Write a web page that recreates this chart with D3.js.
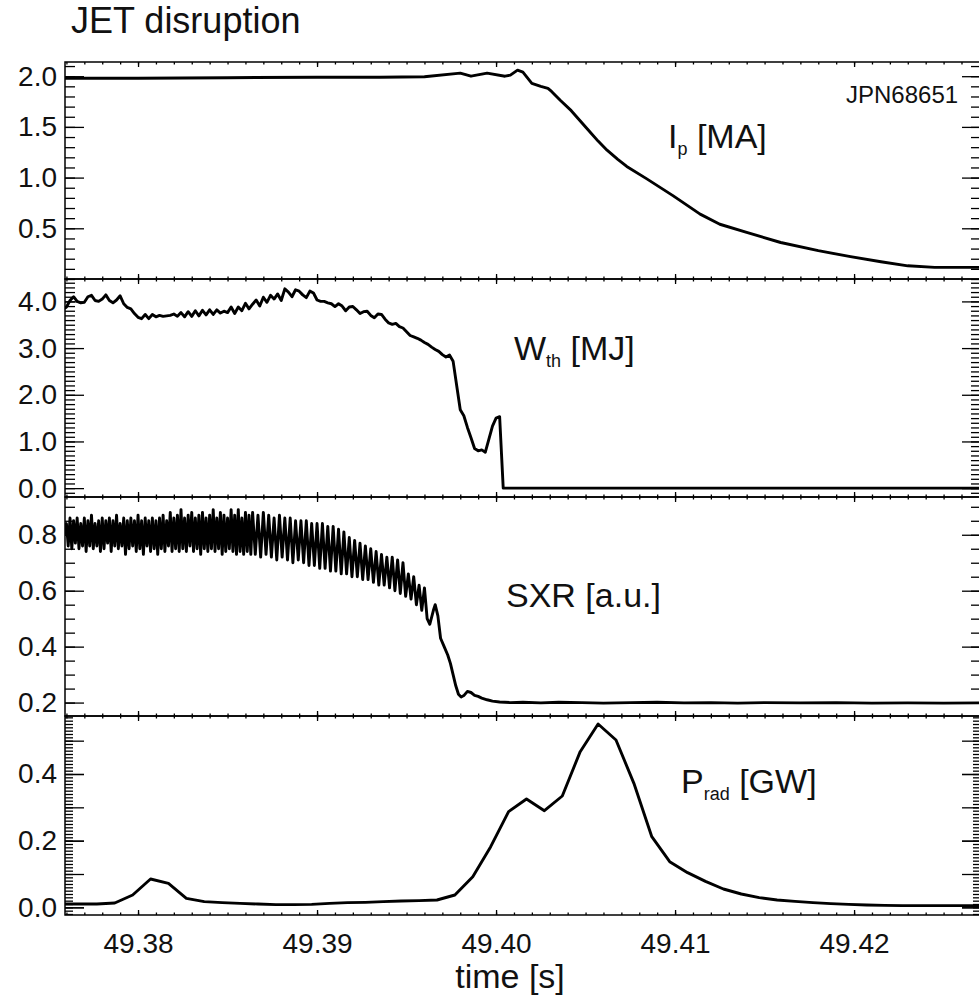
<!DOCTYPE html>
<html>
<head>
<meta charset="utf-8">
<script src="https://cdn.jsdelivr.net/npm/d3@7"></script>
<style>
  body { margin: 0; background: #fff; }
  svg { display: block; font-family: "Liberation Sans", Arial, Helvetica, sans-serif; }
  .tick line { stroke: #000; stroke-width: 1.3; }
  .tick text { font-size: 28px; fill: #111; font-family: "Liberation Sans", Arial, sans-serif; }
  .frame { fill: none; stroke: #000; stroke-width: 1.5; }
  .trace { fill: none; stroke: #000; stroke-width: 2.9; stroke-linejoin: round; }
  .label { font-size: 34px; fill: #111; }
</style>
</head>
<body>
<div id="chart"></div>
<script>
// Time axis [s]
const timeTicks = [49.38, 49.39, 49.40, 49.41, 49.42];

// Plasma current Ip [MA]
const ipData = [
  [49.3759, 1.98], [49.3800, 1.98], [49.3850, 1.985], [49.3900, 1.99], [49.3935, 1.99],
  [49.3960, 1.995], [49.3980, 2.03], [49.3986, 2.00], [49.3995, 2.03], [49.4005, 2.00],
  [49.4008, 2.01], [49.4012, 2.06], [49.4015, 2.04], [49.4020, 1.93], [49.4025, 1.90],
  [49.4029, 1.88], [49.4031, 1.85], [49.4036, 1.76], [49.4042, 1.66], [49.4051, 1.48],
  [49.4057, 1.36], [49.4062, 1.27], [49.4068, 1.18], [49.4073, 1.11], [49.4084, 0.99],
  [49.4099, 0.82], [49.4114, 0.64], [49.4125, 0.54], [49.4140, 0.46], [49.4159, 0.36],
  [49.4180, 0.28], [49.4198, 0.22], [49.4215, 0.17], [49.4230, 0.13], [49.4245, 0.115],
  [49.4271, 0.115]
];
const ipTicks = [0.5, 1.0, 1.5, 2.0];

// Thermal energy Wth [MJ]
const wthData = [
  [49.3759, 3.85], [49.3760, 3.88], [49.3762, 4.02], [49.3764, 4.10], [49.3766, 4.00], [49.3768, 3.97],
  [49.3770, 3.98], [49.3772, 4.10], [49.3774, 4.13], [49.3776, 4.02], [49.3778, 4.00],
  [49.3780, 4.05], [49.3782, 4.14], [49.3784, 4.02], [49.3786, 3.97], [49.3788, 4.03],
  [49.3790, 4.12], [49.3792, 3.95], [49.3794, 3.87], [49.3796, 3.84], [49.3798, 3.74],
  [49.3800, 3.66], [49.3802, 3.63], [49.3804, 3.72], [49.3806, 3.63], [49.3808, 3.72],
  [49.3810, 3.67], [49.3812, 3.70], [49.3814, 3.68], [49.3816, 3.69], [49.3818, 3.70],
  [49.3820, 3.73], [49.3822, 3.68], [49.3824, 3.76], [49.3826, 3.67], [49.3828, 3.78],
  [49.3830, 3.68], [49.3832, 3.80], [49.3834, 3.69], [49.3836, 3.81], [49.3838, 3.71],
  [49.3840, 3.82], [49.3842, 3.72], [49.3844, 3.82], [49.3846, 3.75], [49.3848, 3.79],
  [49.3850, 3.76], [49.3852, 3.88], [49.3854, 3.74], [49.3856, 3.88], [49.3858, 3.80],
  [49.3860, 3.96], [49.3862, 3.84], [49.3864, 3.94], [49.3866, 4.03], [49.3868, 3.90],
  [49.3870, 4.09], [49.3872, 3.98], [49.3874, 4.13], [49.3876, 4.05], [49.3878, 4.16],
  [49.3880, 4.02], [49.3882, 4.27], [49.3884, 4.20], [49.3886, 4.10], [49.3888, 4.25],
  [49.3890, 4.22], [49.3892, 4.14], [49.3894, 4.08], [49.3896, 4.22], [49.3898, 4.18],
  [49.3900, 4.03], [49.3902, 4.00], [49.3904, 4.00], [49.3906, 3.97], [49.3908, 3.95],
  [49.3910, 3.89], [49.3912, 3.95], [49.3914, 3.90], [49.3916, 3.80], [49.3918, 3.88],
  [49.3920, 3.89], [49.3922, 3.82], [49.3924, 3.74], [49.3926, 3.78], [49.3928, 3.79],
  [49.3930, 3.70], [49.3932, 3.65], [49.3934, 3.73], [49.3936, 3.72], [49.3938, 3.62],
  [49.3940, 3.54], [49.3942, 3.51], [49.3944, 3.53], [49.3946, 3.46], [49.3948, 3.43],
  [49.3950, 3.35], [49.3952, 3.27], [49.3954, 3.24], [49.3956, 3.21], [49.3958, 3.17],
  [49.3960, 3.12], [49.3962, 3.08], [49.3964, 3.02], [49.3966, 2.97], [49.3968, 2.93],
  [49.3970, 2.86], [49.3972, 2.81], [49.3974, 2.85], [49.3976, 2.72], [49.3978, 2.20],
  [49.3980, 1.68], [49.3982, 1.55], [49.3984, 1.30], [49.3986, 1.08], [49.3988, 0.85],
  [49.3990, 0.80], [49.3992, 0.82], [49.3994, 0.77], [49.3996, 1.05], [49.3998, 1.33],
  [49.4000, 1.50], [49.4002, 1.53], [49.4004, 0.0], [49.4271, 0.0]
];
const wthTicks = [0.0, 1.0, 2.0, 3.0, 4.0];

// Soft X-ray emission SXR [a.u.]
const sxrData = [
  [49.3759, 0.80],
  [49.3760, 0.84], [49.3761, 0.76], [49.3762, 0.86], [49.3763, 0.75], [49.3764, 0.85],
  [49.3765, 0.77], [49.3766, 0.86], [49.3767, 0.75], [49.3768, 0.84], [49.3769, 0.76],
  [49.3770, 0.86], [49.3771, 0.74], [49.3772, 0.85], [49.3773, 0.76], [49.3774, 0.87],
  [49.3775, 0.75], [49.3776, 0.84], [49.3777, 0.76], [49.3778, 0.85], [49.3779, 0.74],
  [49.3780, 0.86], [49.3781, 0.75], [49.3782, 0.85], [49.3783, 0.77], [49.3784, 0.86],
  [49.3785, 0.74], [49.3786, 0.85], [49.3787, 0.76], [49.3788, 0.87], [49.3789, 0.75],
  [49.3790, 0.84], [49.3791, 0.76], [49.3792, 0.86], [49.3793, 0.73], [49.3794, 0.85],
  [49.3795, 0.75], [49.3796, 0.86], [49.3797, 0.76], [49.3798, 0.85], [49.3799, 0.74],
  [49.3800, 0.87], [49.3801, 0.75], [49.3802, 0.85], [49.3803, 0.73], [49.3804, 0.86],
  [49.3805, 0.76], [49.3806, 0.85], [49.3807, 0.74], [49.3808, 0.86], [49.3809, 0.75],
  [49.3810, 0.85], [49.3811, 0.73], [49.3812, 0.86], [49.3813, 0.75], [49.3814, 0.87],
  [49.3815, 0.74], [49.3816, 0.85], [49.3817, 0.76], [49.3818, 0.88], [49.3819, 0.74],
  [49.3820, 0.86], [49.3821, 0.75], [49.3822, 0.87], [49.3823, 0.74], [49.3824, 0.89],
  [49.3825, 0.75], [49.3826, 0.86], [49.3827, 0.74], [49.3828, 0.87], [49.3829, 0.76],
  [49.3830, 0.88], [49.3831, 0.74], [49.3832, 0.86], [49.3833, 0.75], [49.3834, 0.87],
  [49.3835, 0.73], [49.3836, 0.88], [49.3837, 0.75], [49.3838, 0.86], [49.3839, 0.74],
  [49.3840, 0.87], [49.3841, 0.75], [49.3842, 0.89], [49.3843, 0.74], [49.3844, 0.86],
  [49.3845, 0.75], [49.3846, 0.88], [49.3847, 0.73], [49.3848, 0.87], [49.3849, 0.74],
  [49.3850, 0.86], [49.3851, 0.75], [49.3852, 0.89], [49.3853, 0.74], [49.3854, 0.87],
  [49.3855, 0.73], [49.3856, 0.89], [49.3857, 0.74], [49.3858, 0.86], [49.3859, 0.73],
  [49.3860, 0.88], [49.3861, 0.74], [49.3862, 0.87], [49.3863, 0.73],
  // sawtooth phase
  [49.38640, 0.88], [49.38655, 0.73], [49.38670, 0.87], [49.38685, 0.72], [49.38700, 0.88],
  [49.38715, 0.73], [49.38730, 0.87], [49.38745, 0.72], [49.38760, 0.86], [49.38775, 0.71],
  [49.38790, 0.87], [49.38805, 0.72], [49.38820, 0.86], [49.38835, 0.71], [49.38850, 0.86],
  [49.38865, 0.70], [49.38880, 0.85], [49.38895, 0.71], [49.38910, 0.85], [49.38925, 0.70],
  [49.38940, 0.85], [49.38955, 0.69], [49.38970, 0.84], [49.38985, 0.69], [49.39000, 0.84],
  [49.39015, 0.68], [49.39030, 0.84], [49.39045, 0.68], [49.39060, 0.83], [49.39075, 0.67],
  [49.39090, 0.83], [49.39105, 0.67], [49.39120, 0.82], [49.39135, 0.66], [49.39150, 0.81],
  [49.39165, 0.66], [49.39180, 0.79], [49.39195, 0.65], [49.39210, 0.78], [49.39225, 0.65],
  [49.39240, 0.77], [49.39255, 0.64], [49.39270, 0.76], [49.39285, 0.64], [49.39300, 0.75],
  [49.39315, 0.63], [49.39330, 0.74], [49.39345, 0.62], [49.39360, 0.73], [49.39375, 0.62],
  [49.39390, 0.72], [49.39405, 0.61], [49.39420, 0.72], [49.39435, 0.60], [49.39450, 0.71],
  [49.39465, 0.59], [49.39480, 0.70], [49.39495, 0.58], [49.39510, 0.66], [49.39525, 0.57],
  [49.39540, 0.65], [49.39555, 0.55], [49.39570, 0.62], [49.39585, 0.53], [49.39600, 0.61],
  [49.39615, 0.50],
  // thermal quench
  [49.39630, 0.48], [49.39650, 0.53], [49.39660, 0.55], [49.39675, 0.51], [49.39690, 0.43],
  [49.39710, 0.40], [49.39730, 0.37], [49.39745, 0.34], [49.39760, 0.30], [49.39775, 0.26],
  [49.39790, 0.23], [49.39805, 0.22], [49.39820, 0.225], [49.39840, 0.24], [49.39860, 0.236],
  [49.39880, 0.226], [49.39900, 0.222], [49.39920, 0.216], [49.39950, 0.21], [49.39980, 0.205],
  [49.4002, 0.202], [49.4008, 0.200], [49.4015, 0.201], [49.4025, 0.199], [49.4035, 0.201],
  [49.4048, 0.200], [49.4060, 0.198], [49.4075, 0.200], [49.4090, 0.201], [49.4105, 0.199],
  [49.4120, 0.200], [49.4135, 0.198], [49.4150, 0.200], [49.4170, 0.199], [49.4190, 0.200],
  [49.4210, 0.198], [49.4230, 0.199], [49.4250, 0.198], [49.4271, 0.199]
];
const sxrTicks = [0.2, 0.4, 0.6, 0.8];

// Radiated power Prad [GW]
const pradData = [
  [49.3757, 0.010], [49.3767, 0.010], [49.3777, 0.010], [49.3787, 0.013], [49.3797, 0.037],
  [49.3807, 0.085], [49.3817, 0.072], [49.3827, 0.027], [49.3837, 0.017], [49.3847, 0.014],
  [49.3857, 0.012], [49.3867, 0.010], [49.3877, 0.008], [49.3887, 0.008], [49.3897, 0.009],
  [49.3907, 0.012], [49.3917, 0.014], [49.3927, 0.015], [49.3937, 0.017], [49.3947, 0.019],
  [49.3957, 0.020], [49.3967, 0.022], [49.3977, 0.037], [49.3987, 0.092], [49.3997, 0.182],
  [49.4007, 0.287], [49.4017, 0.325], [49.4027, 0.290], [49.4037, 0.334], [49.4047, 0.467],
  [49.4057, 0.550], [49.4067, 0.502], [49.4077, 0.372], [49.4087, 0.212], [49.4097, 0.137],
  [49.4107, 0.104], [49.4117, 0.078], [49.4127, 0.055], [49.4137, 0.040], [49.4147, 0.029],
  [49.4157, 0.022], [49.4167, 0.018], [49.4177, 0.014], [49.4187, 0.011], [49.4197, 0.009],
  [49.4207, 0.007], [49.4217, 0.006], [49.4227, 0.005], [49.4237, 0.005], [49.4247, 0.005],
  [49.4257, 0.005], [49.4267, 0.005], [49.4277, 0.005]
];
const pradTicks = [0.0, 0.2, 0.4];

/************************************
 * Build the stacked panels
 ************************************/
const w = 979, h = 997;
const left = 65, right = 981;

const svg = d3.select("#chart").append("svg")
  .attr("width", w)
  .attr("height", h);

const x = d3.scaleLinear()
  .domain([49.37592, 49.42709])
  .range([left, right]);

const xMinor = d3.range(49376, 49428).map(d => d / 1000);

const panels = [
  { id: "ip", data: ipData, domain: [0, 2.14], top: 62, bottom: 279, ticks: ipTicks,
    minor: d3.range(0, 22).map(d => d / 10), majorLen: 19, minorLen: 10 },
  { id: "wth", data: wthData, domain: [-0.19, 4.48], top: 279, bottom: 497, ticks: wthTicks,
    minor: d3.range(-1, 45).map(d => d / 10), majorLen: 19, minorLen: 10 },
  { id: "sxr", data: sxrData, domain: [0.152, 0.935], top: 497, bottom: 716, ticks: sxrTicks,
    minor: d3.range(3, 19).map(d => d / 20), majorLen: 19, minorLen: 10, width: 2.9 },
  { id: "prad", data: pradData, domain: [-0.023, 0.574], top: 716, bottom: 915, ticks: pradTicks,
    extra: d3.range(0, 6).map(d => d / 10),
    minor: d3.range(-2, 58).map(d => d / 100), majorLen: 19, minorLen: 8 }
];

panels.forEach((p, i) => {
  const y = d3.scaleLinear().domain(p.domain).range([p.bottom, p.top]);
  const last = i === panels.length - 1;

  svg.append("clipPath").attr("id", "clip-" + p.id)
    .append("rect")
    .attr("x", left).attr("y", p.top)
    .attr("width", right - left).attr("height", p.bottom - p.top);

  // data trace
  svg.append("path")
    .datum(p.data)
    .attr("class", "trace")
    .attr("clip-path", "url(#clip-" + p.id + ")")
    .style("stroke-width", p.width || 2.9)
    .attr("d", d3.line().x(d => x(d[0])).y(d => y(d[1])));

  // left / right axes: minor, (extra), major with labels
  const addY = (axis, xPos) => {
    const g = svg.append("g").attr("transform", "translate(" + xPos + ",0)").call(axis);
    g.select(".domain").remove();
    return g;
  };
  const inRange = v => v >= p.domain[0] && v <= p.domain[1];
  addY(d3.axisLeft(y).tickValues(p.minor.filter(inRange)).tickSize(-p.minorLen).tickFormat(""), left);
  addY(d3.axisRight(y).tickValues(p.minor.filter(inRange)).tickSize(-p.minorLen).tickFormat(""), right);
  if (p.extra) {
    addY(d3.axisLeft(y).tickValues(p.extra.filter(inRange)).tickSize(-p.majorLen).tickFormat(""), left);
    addY(d3.axisRight(y).tickValues(p.extra.filter(inRange)).tickSize(-p.majorLen).tickFormat(""), right);
  }
  addY(d3.axisLeft(y).tickValues(p.ticks).tickSize(-p.majorLen).tickPadding(8)
    .tickFormat(d3.format(".1f")), left);
  addY(d3.axisRight(y).tickValues(p.ticks).tickSize(-p.majorLen).tickFormat(""), right);

  // top and bottom time ticks
  const addX = (axis, yPos) => {
    const g = svg.append("g").attr("transform", "translate(0," + yPos + ")").call(axis);
    g.select(".domain").remove();
    return g;
  };
  addX(d3.axisTop(x).tickValues(xMinor).tickSize(-2.5).tickFormat(""), p.top);
  addX(d3.axisTop(x).tickValues(timeTicks).tickSize(-5).tickFormat(""), p.top);
  addX(d3.axisBottom(x).tickValues(xMinor).tickSize(-2.5).tickFormat(""), p.bottom);
  addX(d3.axisBottom(x).tickValues(timeTicks).tickSize(-5).tickPadding(18)
    .tickFormat(last ? d3.format(".2f") : ""), p.bottom);

  svg.append("rect")
    .attr("class", "frame")
    .attr("x", left).attr("y", p.top)
    .attr("width", right - left).attr("height", p.bottom - p.top);
});

// Titles and trace labels
svg.append("text")
  .attr("x", 71).attr("y", 33)
  .style("font-size", "36px").style("fill", "#111")
  .text("JET disruption");

svg.append("text")
  .attr("x", 846).attr("y", 103)
  .style("font-size", "24px").style("fill", "#111")
  .text("JPN68651");

const subLabel = (xPos, yPos, main, sub, unit) => {
  const t = svg.append("text").attr("class", "label").attr("x", xPos).attr("y", yPos);
  t.append("tspan").text(main);
  t.append("tspan").attr("dy", 7).style("font-size", "18px").text(sub);
  t.append("tspan").attr("dy", -7).text("\u00a0" + unit);
};
subLabel(668, 148, "I", "p", "[MA]");
subLabel(514, 360, "W", "th", "[MJ]");
svg.append("text").attr("class", "label").attr("x", 506).attr("y", 607).text("SXR [a.u.]");
subLabel(681, 793, "P", "rad", "[GW]");

svg.append("text")
  .attr("x", 510).attr("y", 988)
  .attr("text-anchor", "middle")
  .style("font-size", "34px").style("fill", "#111")
  .text("time [s]");
</script>
</body>
</html>
